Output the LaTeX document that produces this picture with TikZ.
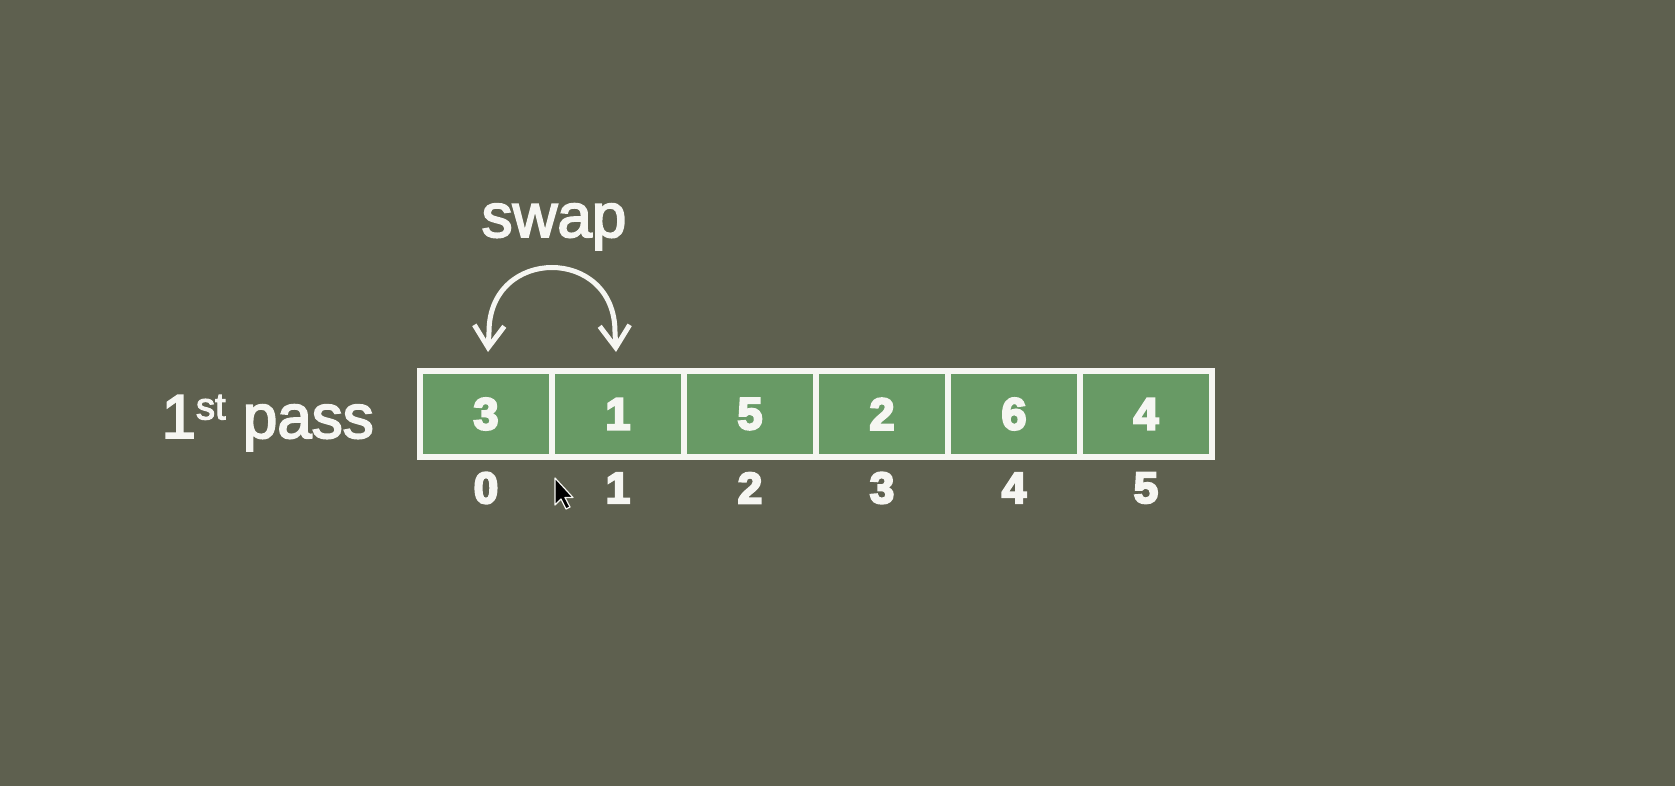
\documentclass[tikz,border=0pt]{standalone}
\usepackage{fontspec}
\setmainfont{Liberation Sans}
\newfontfamily\labelfont{Liberation Sans}[FakeBold=3]
\newfontfamily\heavyfont{Liberation Sans Bold}[FakeBold=5]
\usetikzlibrary{arrows.meta}
\definecolor{bg}{HTML}{5E604F}
\definecolor{cellgreen}{HTML}{689A65}
\definecolor{txt}{HTML}{F6F6F2}
\tikzset{
  cellbox/.style={draw=txt, line width=6pt, fill=cellgreen, minimum width=132pt, minimum height=86pt, inner sep=0pt, text=txt, font=\fontsize{45}{45}\heavyfont},
  idxlabel/.style={inner sep=0pt, text=txt, font=\fontsize{44}{44}\heavyfont},
  biglabel/.style={inner sep=0pt, text=txt, font=\fontsize{62}{62}\labelfont},
  swaparrow/.style={txt, line width=5pt, >={Straight Barb[length=22pt,width=30pt,line width=5pt]}, <->},
}
\begin{document}
\begin{tikzpicture}[x=1pt,y=-1pt]
\fill[bg] (0,0) rectangle (1675,786);
\useasboundingbox (0,0) rectangle (1675,786);
% cells
\foreach \v/\i in {3/0,1/1,5/2,2/3,6/4,4/5}{
  \node[cellbox] (c\i) at ({486+132*\i},414) {\v};
  \node[idxlabel] (i\i) at ({486+132*\i},488) {\i};
}
% labels
\node[biglabel, anchor=base east] (pass) at (374,438) {1\raisebox{0.3em}{\fontsize{38}{38}\selectfont st} pass};
\node[biglabel, anchor=base] (swap) at (554,237) {swap};
% swap arrow
\coordinate (t0) at (488,352);
\coordinate (t1) at (616,352);
\draw[swaparrow] (t0) -- (489,332) .. controls (489,246) and (615,246) .. (615,332) -- (t1);
% mouse cursor
\begin{scope}[shift={(555,478)}]
\filldraw[fill=black, draw=txt, line width=1.2pt, line join=round]
  (0,0) -- (0,27) -- (6,21) -- (11,31) -- (15,29) -- (10,19.5) -- (18,19.5) -- cycle;
\end{scope}
\end{tikzpicture}
\end{document}
